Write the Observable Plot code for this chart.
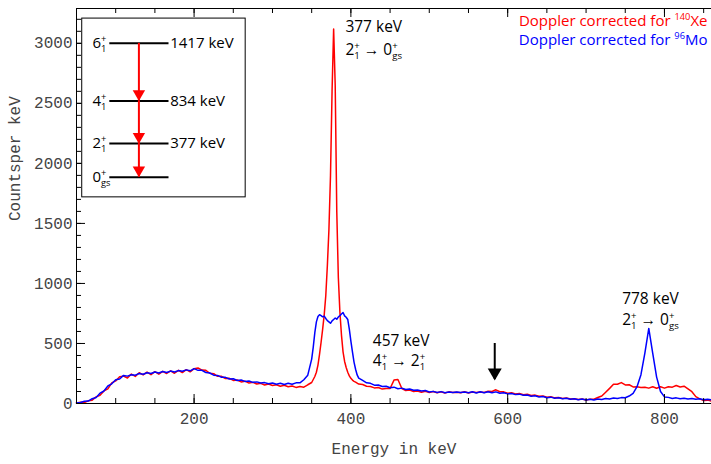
<!DOCTYPE html>
<html><head><meta charset="utf-8">
<script src="https://cdn.jsdelivr.net/npm/d3@7"></script>
<script src="https://cdn.jsdelivr.net/npm/@observablehq/plot@0.6"></script>
<style>body{margin:0;background:#fff} svg{display:block}</style>
</head><body><div id="chart"></div>
<script>
// ---- Spectrum data (keV, counts per keV) ----
const energy = [
  50,55,60,65,70,75,80,85,90,95,100,105,110,115,120,125,130,135,140,145,
  150,155,160,165,170,175,180,185,190,195,200,205,210,215,220,225,230,235,240,245,
  250,255,260,265,270,275,280,285,290,295,300,305,310,315,320,325,330,335,340,345,350,
  352,354,356,358,360,362,364,366,368,370,372,374,376,378,380,382,384,386,388,390,
  392,394,396,398,400,402,404,406,408,410,
  415,420,425,430,435,440,445,450,455,460,465,470,475,480,485,490,495,500,505,510,
  515,520,525,530,535,540,545,550,555,560,565,570,575,580,585,590,595,600,605,610,
  615,620,625,630,635,640,645,650,655,660,665,670,675,680,685,690,695,700,705,710,
  715,720,725,730,735,740,745,750,755,760,765,770,775,780,785,790,795,800,805,810,
  815,820,825,830,835,840,845,850,855,860
];
// Doppler corrected for 140Xe (red)
const xeCounts = [
  5,10,8,22,28,55,68,105,122,172,188,222,228,212,245,226,256,238,262,240,
  265,244,268,250,272,252,276,258,282,264,290,296,278,276,252,248,226,226,208,210,
  192,196,180,186,170,176,162,168,154,162,150,156,144,152,140,146,134,142,136,156,175,
  200,225,260,320,410,510,620,740,900,1150,1450,1900,2600,3120,2650,1600,1050,760,570,430,
  350,300,260,230,210,195,185,178,170,162,
  158,144,142,130,133,120,124,125,195,200,125,108,112,100,104,94,102,92,100,89,
  98,88,97,91,94,89,98,87,95,91,96,92,102,100,114,98,97,86,90,80,
  83,73,77,66,70,60,63,53,57,47,50,41,45,37,40,33,37,30,36,36,
  50,62,94,126,160,160,174,155,156,138,140,134,136,128,140,127,139,128,140,136,
  150,138,144,121,98,57,39,24,28,20
];
// Doppler corrected for 96Mo (blue)
const moCounts = [
  5,8,18,20,40,50,86,104,146,164,198,204,234,228,240,236,250,244,256,250,
  262,254,266,258,270,262,274,268,280,272,290,276,276,258,254,236,234,218,218,204,
  206,192,196,184,188,176,180,170,174,164,170,160,168,158,168,160,172,172,198,236,370,
  470,590,680,725,740,732,722,728,708,690,680,668,688,700,712,702,720,732,745,758,
  730,718,700,620,520,430,345,285,238,212,
  192,172,168,153,154,141,144,131,136,123,128,116,121,110,113,104,108,96,101,91,
  99,89,96,91,96,91,96,90,98,88,98,89,98,89,97,86,90,80,84,74,
  78,68,71,61,64,54,58,48,53,44,48,39,44,35,40,32,37,30,35,30,
  38,33,41,37,45,41,49,48,62,85,140,240,420,625,420,220,100,55,51,42,
  47,39,44,37,42,35,39,32,36,30
];

// ---- Axes ----
const xTickLabels = [200, 400, 600, 800];
const yTickLabels = [0, 500, 1000, 1500, 2000, 2500, 3000];
const xMinorTicks = d3.range(50, 860, 50);
const yMinorTicks = d3.range(0, 3290, 100);

// ---- Level scheme (inset) ----
const levelSpins = ["6^{+}_{1}", "4^{+}_{1}", "2^{+}_{1}", "0^{+}_{gs}"];
const levelEnergies = ["1417 keV", "834 keV", "377 keV", ""];

// ---- Peak annotations ----
const peakEnergies = ["377 keV", "457 keV", "778 keV"];
const peakTransitions = ["2^{+}_{1} → 0^{+}_{gs}", "4^{+}_{1} → 2^{+}_{1}", "2^{+}_{1} → 0^{+}_{gs}"];
const markedEnergy = [583.5];
const legendLabels = ["Doppler corrected for ^{140}Xe", "Doppler corrected for ^{96}Mo"];

const RED = "#ff0000", BLUE = "#0000ff";
const xe = energy.map((e, i) => ({e, c: xeCounts[i]}));
const mo = energy.map((e, i) => ({e, c: moCounts[i]}));

// layout (data coordinates of the annotation anchors)
const levelY = [3000, 2520, 2165, 1885];
const levels = levelSpins.map((s, i) => ({spin: s, en: levelEnergies[i], y: levelY[i]}));
const transitions = [0, 1, 2].map(i => ({from: levelY[i], to: levelY[i + 1]}));
const peakPos = [{x: 393, y1: 3092, y2: 2900}, {x: 428, y1: 483, y2: 311}, {x: 746, y1: 831, y2: 650}];
const peaks = peakEnergies.map((p, i) => ({top: p, bot: peakTransitions[i], ...peakPos[i]}));

const W = 711, H = 464, ML = 76, MT = 8, MB = 61, MR = 0;
const innerH = H - MT - MB, innerW = W - ML - MR;
const SANS = "Open Sans, Noto Sans, sans-serif";
const MONO = "Liberation Mono, DejaVu Sans Mono, monospace";
const FS = 15;

const chart = Plot.plot({
  width: W, height: H,
  marginLeft: ML, marginTop: MT, marginBottom: MB, marginRight: MR,
  x: {domain: [50, 860]},
  y: {domain: [0, 3290]},
  style: {fontFamily: SANS, background: "white", color: "#000"},
  marks: [
    // spectra
    Plot.line(xe, {x: "e", y: "c", stroke: RED, strokeWidth: 1.5}),
    Plot.line(mo, {x: "e", y: "c", stroke: BLUE, strokeWidth: 1.5}),
    // frame (left, bottom, top)
    Plot.ruleX([50], {stroke: "#000"}),
    Plot.ruleY([0], {stroke: "#000"}),
    Plot.ruleY([3290], {stroke: "#000"}),
    // inward ticks
    Plot.tickX(xMinorTicks, {x: d => d, insetTop: innerH - 5, stroke: "#000"}),
    Plot.tickX(xTickLabels, {x: d => d, insetTop: innerH - 9, stroke: "#000"}),
    Plot.tickX(xMinorTicks, {x: d => d, insetBottom: innerH - 5, stroke: "#000"}),
    Plot.tickX(xTickLabels, {x: d => d, insetBottom: innerH - 9, stroke: "#000"}),
    Plot.tickY(yMinorTicks, {y: d => d, insetRight: innerW - 5, stroke: "#000"}),
    Plot.tickY(yTickLabels, {y: d => d, insetRight: innerW - 9, stroke: "#000"}),
    Plot.axisX({ticks: xTickLabels, tickSize: 0, tickPadding: 9, fontSize: 16, fontFamily: MONO, fill: "#444", label: null, tickFormat: d => String(d)}),
    Plot.axisY({ticks: yTickLabels, tickSize: 0, tickPadding: 4, fontSize: 16, fontFamily: MONO, fill: "#444", label: null, tickFormat: d => String(d)}),
    // axis titles
    Plot.text(["Energy in keV"], {text: d => d, frameAnchor: "bottom", dy: 50, fontSize: 16, fontFamily: MONO, fill: "#444"}),
    Plot.text(["Countsper keV"], {text: d => d, frameAnchor: "left", dx: -62, dy: 15, rotate: -90, fontSize: 16, fontFamily: MONO, fill: "#444"}),
    // level scheme inset
    Plot.rect([{x1: 57.3, x2: 265.8, y1: 1717, y2: 3206}], {x1: "x1", x2: "x2", y1: "y1", y2: "y2", fill: "white", stroke: "#000", strokeWidth: 1}),
    Plot.ruleY(levels, {y: "y", x1: () => 92.5, x2: () => 168, stroke: "#000", strokeWidth: 2}),
    Plot.ruleX(transitions, {x: () => 129.6, y1: "from", y2: "to", stroke: RED, strokeWidth: 2}),
    Plot.dot(transitions, {x: () => 129.6, y: "to", dy: -7, symbol: "triangle", r: 4.6, fill: RED, rotate: 180, stroke: null}),
    Plot.text(levels, {x: () => 70.4, y: "y", text: "spin", textAnchor: "start", fontSize: FS, fill: "#000"}),
    Plot.text(levels, {x: () => 169.5, y: "y", text: "en", textAnchor: "start", fontSize: FS, fill: "#000"}),
    // peak annotations
    Plot.text(peaks, {x: "x", y: "y1", text: "top", textAnchor: "start", lineAnchor: "bottom", fontSize: 15.5, fill: "#000"}),
    Plot.text(peaks, {x: "x", y: "y2", text: "bot", textAnchor: "start", lineAnchor: "bottom", fontSize: 15.5, fill: "#000"}),
    // marked position arrow
    Plot.ruleX(markedEnergy, {x: d => d, y1: () => 500, y2: () => 200, stroke: "#000", strokeWidth: 2}),
    Plot.dot(markedEnergy, {x: d => d, y: () => 192, dy: -8, symbol: "triangle", r: 5.2, fill: "#000", rotate: 180, stroke: null}),
    // legend
    Plot.text([legendLabels[0]], {text: d => d, frameAnchor: "top-right", dx: -4, dy: 17, textAnchor: "end", lineAnchor: "bottom", fontSize: FS, fill: RED}),
    Plot.text([legendLabels[1]], {text: d => d, frameAnchor: "top-right", dx: -4, dy: 36, textAnchor: "end", lineAnchor: "bottom", fontSize: FS, fill: BLUE})
  ]
});
document.getElementById("chart").append(chart);

// rich text: ^{sup} and _{sub} (a sub right after a sup is stacked under it)
function richify(svg) {
  const ns = "http://www.w3.org/2000/svg";
  svg.querySelectorAll("text").forEach(t => {
    const s = t.textContent;
    if (!/[\^_]\{/.test(s)) return;
    const fs = parseFloat(t.getAttribute("font-size") || getComputedStyle(t).fontSize) || 14;
    const small = fs * 0.62;
    while (t.firstChild) t.removeChild(t.firstChild);
    const re = /\^\{([^}]*)\}|_\{([^}]*)\}|([^\^_]+)/g;
    let m, cur = 0, supLen = null;
    while ((m = re.exec(s))) {
      const ts = document.createElementNS(ns, "tspan");
      let target;
      if (m[1] !== undefined) { target = -0.4 * fs; ts.setAttribute("font-size", small); ts.textContent = m[1]; }
      else if (m[2] !== undefined) {
        target = 0.25 * fs; ts.setAttribute("font-size", small); ts.textContent = m[2];
        if (supLen != null) ts.setAttribute("dx", -supLen);
      } else { target = 0; ts.textContent = m[3]; }
      ts.setAttribute("dy", target - cur);
      cur = target;
      t.appendChild(ts);
      supLen = m[1] !== undefined ? ts.getComputedTextLength() : null;
    }
  });
}
richify(chart);
</script>
</body></html>
